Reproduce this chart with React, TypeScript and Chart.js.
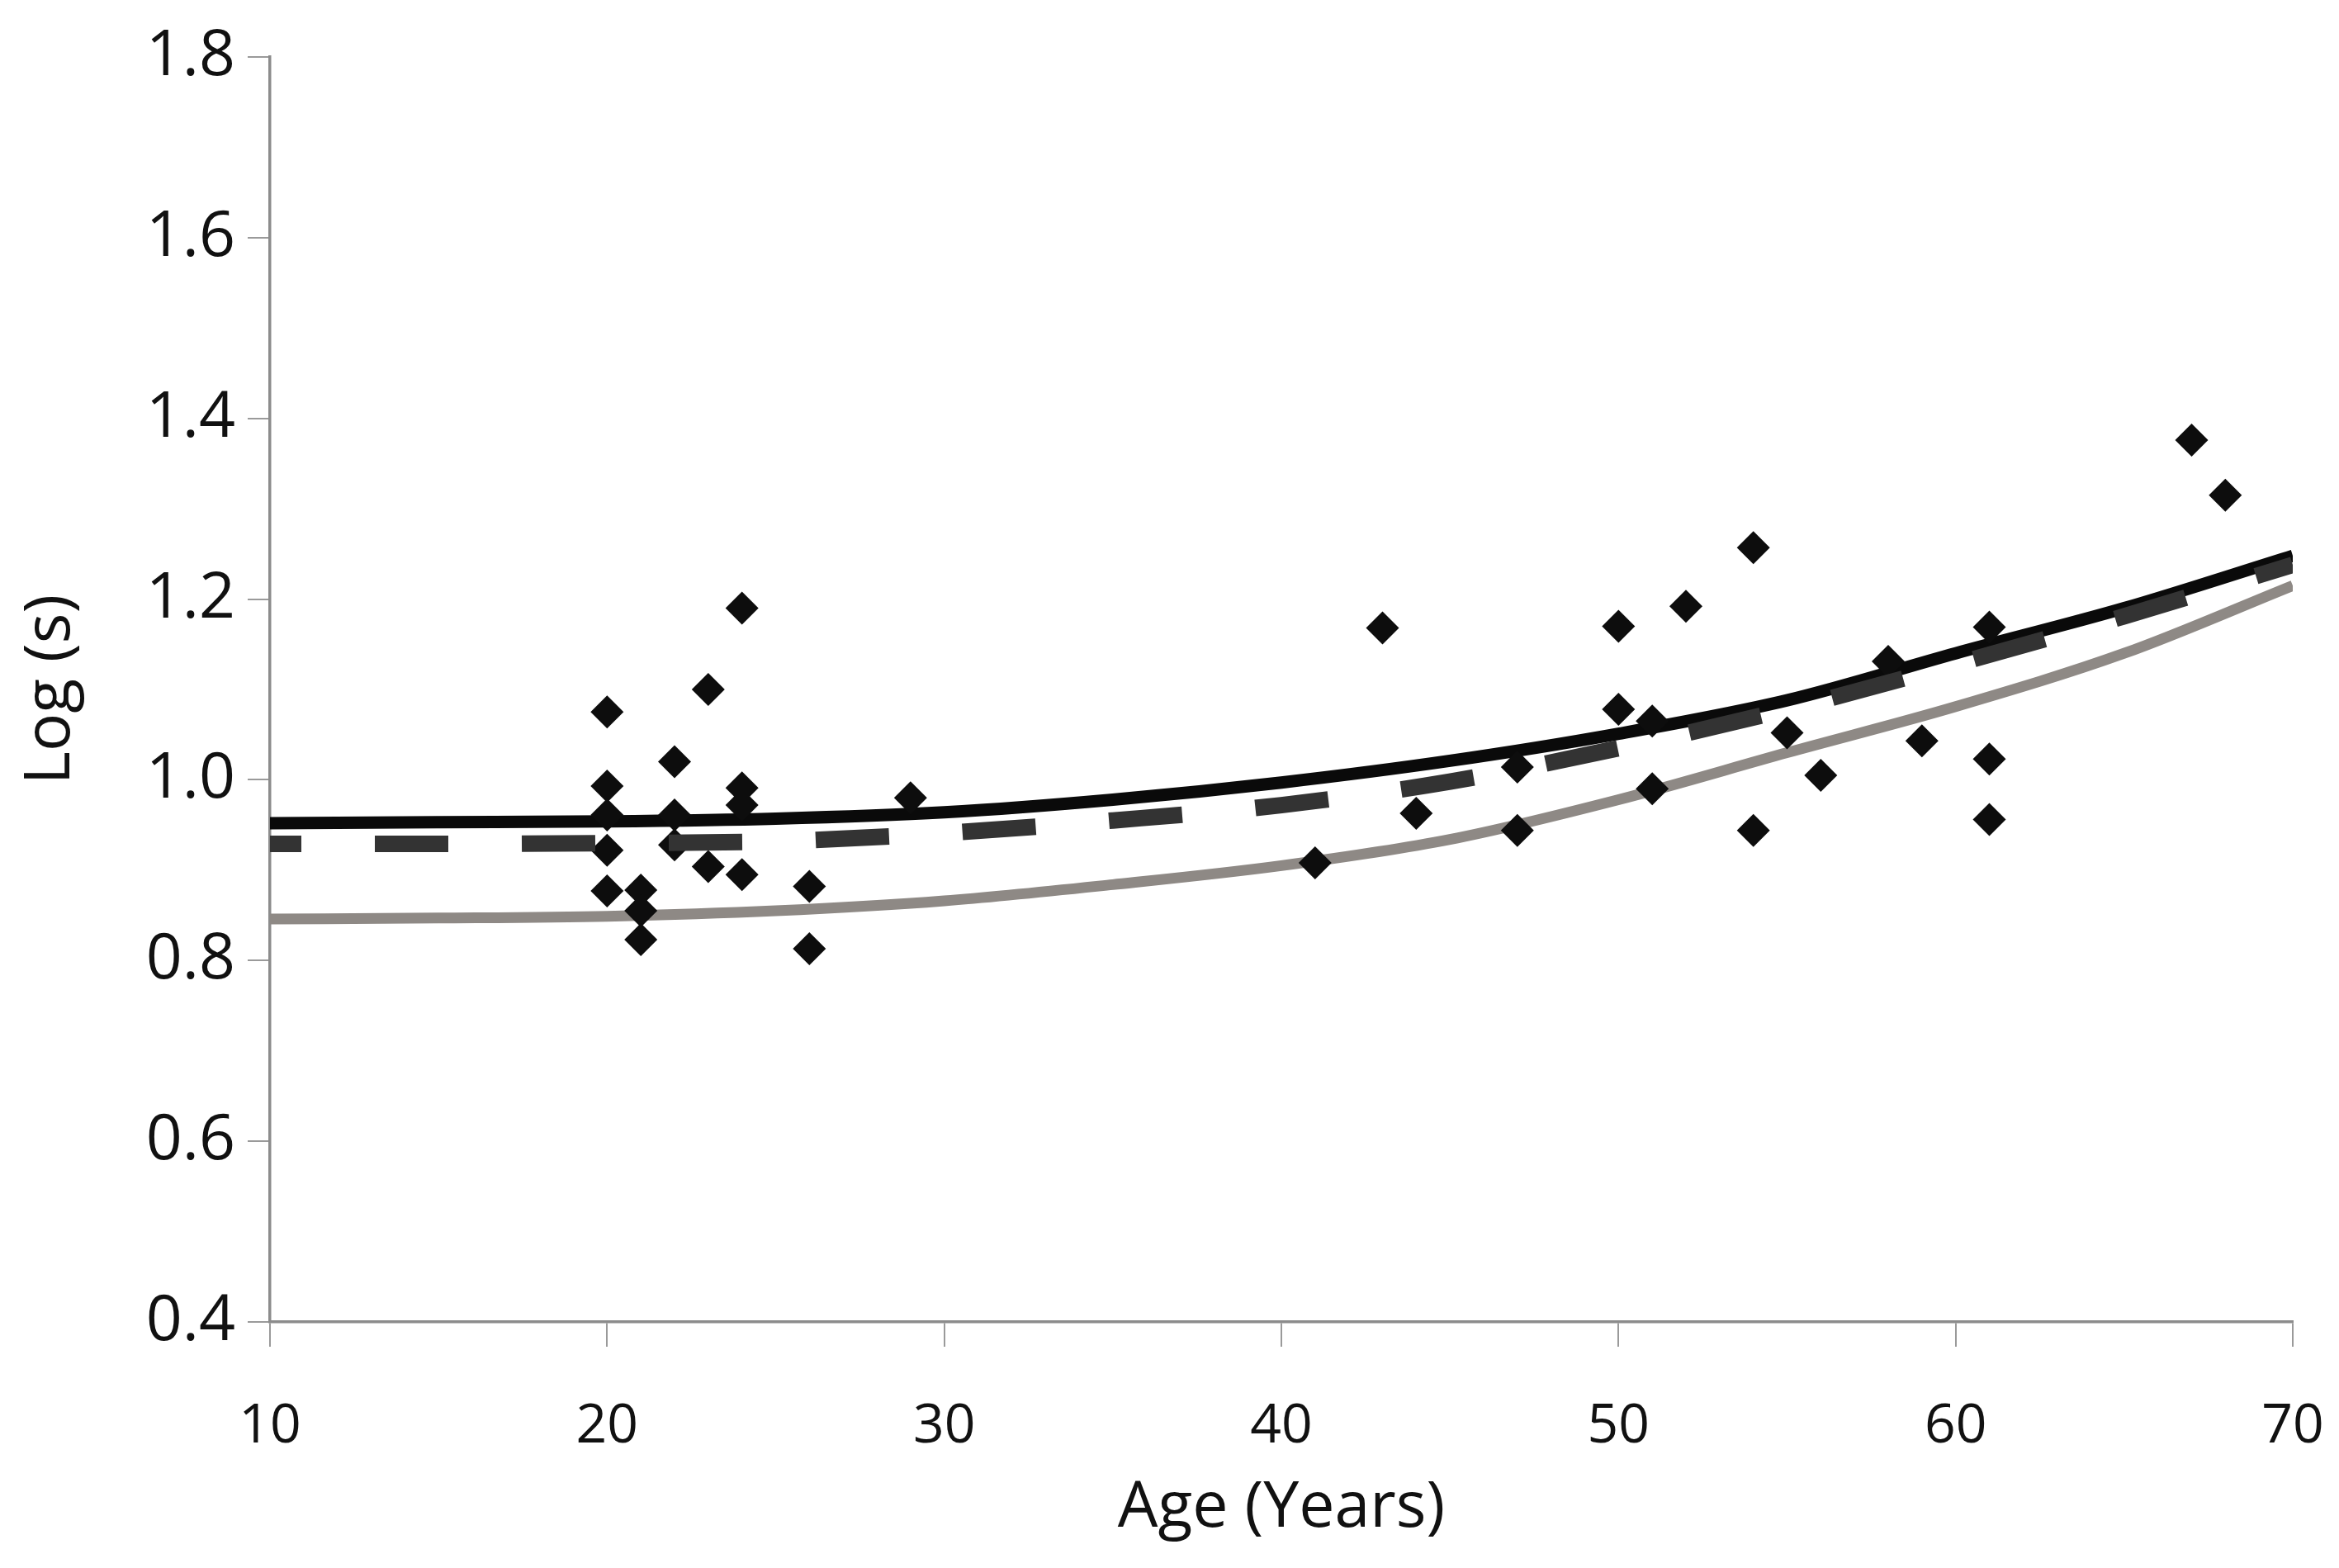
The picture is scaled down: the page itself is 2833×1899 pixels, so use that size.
import React, { useEffect, useRef } from "react";
import { Chart, registerables } from "chart.js";

Chart.register(...registerables);

// Scatter observations (age in years, log(s))
const scatterAge = [20, 20, 20, 20, 20, 21, 21, 21, 22, 22, 22, 23, 23, 24, 24, 24, 24, 26, 26, 29, 41, 43, 44, 47, 47, 50, 50, 51, 51, 52, 54, 54, 55, 56, 58, 59, 61, 61, 61, 67, 68];
const scatterLog = [1.075, 0.993, 0.961, 0.922, 0.877, 0.878, 0.855, 0.823, 1.02, 0.961, 0.928, 1.1, 0.904, 1.19, 0.991, 0.972, 0.895, 0.882, 0.813, 0.98, 0.908, 1.168, 0.963, 1.014, 0.944, 1.17, 1.078, 1.065, 0.99, 1.192, 1.257, 0.944, 1.052, 1.005, 1.131, 1.043, 1.169, 1.023, 0.956, 1.376, 1.315];

// Fitted curves sampled at these ages
const curveAge = [10, 15, 20, 25, 30, 35, 40, 45, 50, 55, 60, 65, 70];
const blackCurve = [0.952, 0.953, 0.954, 0.957, 0.964, 0.978, 0.997, 1.021, 1.051, 1.088, 1.14, 1.19, 1.248];
const dashedCurve = [0.929, 0.929, 0.93, 0.932, 0.941, 0.955, 0.972, 0.998, 1.035, 1.078, 1.128, 1.181, 1.238];
const grayCurve = [0.846, 0.847, 0.849, 0.855, 0.866, 0.884, 0.905, 0.934, 0.978, 1.03, 1.081, 1.14, 1.215];

const xTicks = [10, 20, 30, 40, 50, 60, 70];
const yTicks = [0.4, 0.6, 0.8, 1.0, 1.2, 1.4, 1.6, 1.8];

const toPts = (xs: number[], ys: number[]) => xs.map((x, i) => ({ x, y: ys[i] }));

export default function App() {
  const ref = useRef<HTMLCanvasElement | null>(null);

  useEffect(() => {
    document.body.style.margin = "0";
    const canvas = ref.current;
    if (!canvas) return;
    const font = "'Open Sans', 'Noto Sans', sans-serif";
    const axisColor = "#8c8c8c";
    const chart = new Chart(canvas, {
      type: "scatter",
      data: {
        datasets: [
          {
            type: "line",
            label: "dashed",
            data: toPts(curveAge, dashedCurve),
            borderColor: "#333333",
            borderWidth: 20,
            borderDash: [89, 89],
            borderDashOffset: 51,
            pointRadius: 0,
            cubicInterpolationMode: "monotone",
            fill: false,
            order: 0,
          } as any,
          {
            type: "scatter",
            label: "data",
            data: toPts(scatterAge, scatterLog),
            pointStyle: "rectRot",
            pointRadius: 20,
            pointBackgroundColor: "#0d0d0d",
            pointBorderWidth: 0,
            backgroundColor: "#0d0d0d",
            borderColor: "#0d0d0d",
            order: 1,
          } as any,
          {
            type: "line",
            label: "black",
            data: toPts(curveAge, blackCurve),
            borderColor: "#0a0a0a",
            borderWidth: 15,
            pointRadius: 0,
            cubicInterpolationMode: "monotone",
            fill: false,
            order: 2,
          } as any,
          {
            type: "line",
            label: "gray",
            data: toPts(curveAge, grayCurve),
            borderColor: "#8e8985",
            borderWidth: 13,
            pointRadius: 0,
            cubicInterpolationMode: "monotone",
            fill: false,
            order: 3,
          } as any,
        ],
      },
      options: {
        animation: false,
        responsive: false,
        devicePixelRatio: 1,
        layout: { padding: { top: 69, right: 56, left: 0, bottom: 0 } },
        plugins: {
          legend: { display: false },
          tooltip: { enabled: false },
        },
        scales: {
          x: {
            type: "linear",
            min: 10,
            max: 70,
            afterFit: (s: any) => {
              s.height = 298;
              s.paddingLeft = 0;
              s.paddingRight = 0;
            },
            afterBuildTicks: (s: any) => {
              s.ticks = xTicks.map((v) => ({ value: v }));
            },
            ticks: {
              padding: 58,
              color: "#111111",
              font: { family: font, size: 66 },
              callback: (v: any) => String(v),
            },
            grid: {
              drawOnChartArea: false,
              drawTicks: true,
              tickLength: 30,
              color: "#9a9a9a",
              lineWidth: 2,
            },
            border: { display: true, color: axisColor, width: 3.5 },
            title: {
              display: true,
              text: "Age (Years)",
              color: "#111111",
              font: { family: font, size: 77 },
              padding: { top: 0, bottom: 26 },
            },
          },
          y: {
            type: "linear",
            min: 0.4,
            max: 1.8,
            afterFit: (s: any) => {
              s.width = 327;
              s.paddingTop = 0;
              s.paddingBottom = 0;
            },
            afterBuildTicks: (s: any) => {
              s.ticks = yTicks.map((v) => ({ value: v }));
            },
            ticks: {
              padding: 15,
              color: "#111111",
              font: { family: font, size: 77 },
              callback: (v: any) => Number(v).toFixed(1),
            },
            grid: {
              drawOnChartArea: false,
              drawTicks: true,
              tickLength: 27,
              color: "#9a9a9a",
              lineWidth: 2,
            },
            border: { display: true, color: axisColor, width: 3.5 },
            title: {
              display: true,
              text: "Log (s)",
              color: "#111111",
              font: { family: font, size: 77 },
              padding: { top: 16, bottom: 0 },
            },
          },
        },
      },
    });
    return () => chart.destroy();
  }, []);

  return (
    <div style={{ width: 2833, height: 1899, background: "#ffffff" }}>
      <canvas ref={ref} width={2833} height={1899} style={{ width: 2833, height: 1899, display: "block" }} />
    </div>
  );
}
